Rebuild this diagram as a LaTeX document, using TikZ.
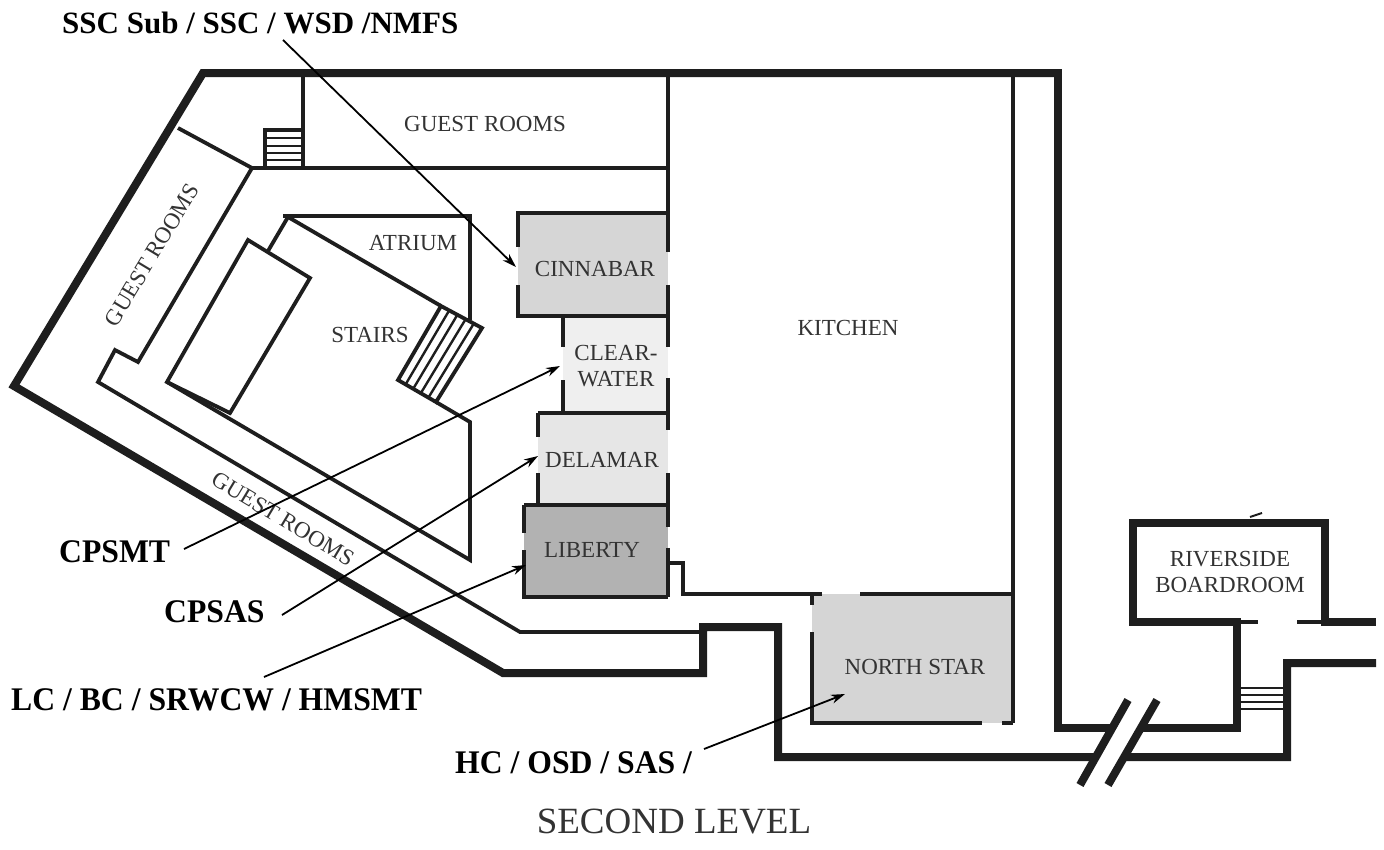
\documentclass[tikz,border=0pt]{standalone}
\usepackage{fontspec}
\setmainfont{Liberation Serif}
\usetikzlibrary{arrows.meta,calc}
\definecolor{wallc}{HTML}{1E1E1E}
\definecolor{lblc}{HTML}{333333}
\definecolor{cinn}{HTML}{D6D6D6}
\definecolor{clear}{HTML}{EFEFEF}
\definecolor{dela}{HTML}{E6E6E6}
\definecolor{libe}{HTML}{B2B2B2}
\definecolor{nstar}{HTML}{D5D5D5}
\newcommand{\cond}[1]{\scalebox{0.96}[1]{#1}}
\begin{document}
\begin{tikzpicture}[x=1pt,y=-1pt,
  outer/.style={line width=8pt, color=wallc, line join=miter},
  wall/.style={line width=4.5pt, color=wallc},
  thinwall/.style={line width=3.8pt, color=wallc},
  hatch/.style={line width=2.4pt, color=wallc},
  roomlbl/.style={font=\fontsize{23}{26}\selectfont, text=lblc, align=center, inner sep=0pt},
  callout/.style={font=\bfseries\fontsize{31}{33}\selectfont, inner sep=0pt, anchor=base west},
  calloutb/.style={font=\bfseries\fontsize{33}{35}\selectfont, inner sep=0pt, anchor=base west},
  arr/.style={line width=1.8pt, -{Stealth[length=14pt,width=9pt]}}]
\useasboundingbox (0,0) rectangle (1384,849);

% ---------- room fills ----------
\fill[cinn] (518,213) rectangle (668,316);
\fill[clear] (563,316) rectangle (668,413);
\fill[dela] (538,413) rectangle (668,505);
\fill[libe] (524,505) rectangle (668,597);
\fill[nstar] (812,594) rectangle (1013,723);

% ---------- outer walls ----------
\draw[outer] (1058,73) -- (203,73) -- (14,386) -- (503,673) -- (703,673) -- (703,627) -- (778,627) -- (778,757) -- (1287,757) -- (1287,663) -- (1376,663);
\draw[outer] (1058,69) -- (1058,728) -- (1237,728) -- (1237,622) -- (1133,622) -- (1133,523) -- (1325,523) -- (1325,622) -- (1376,622);
\draw[thinwall] (1237,622) -- (1258,622);
\draw[thinwall] (1297,622) -- (1325,622);
\draw[line width=2pt, color=wallc] (1250,517) -- (1262,513);

% small stairs by riverside
\foreach \yy in {688,695,702,709} \draw[line width=2pt, color=wallc] (1239,\yy) -- (1285,\yy);

% break marks
\fill[white] (1121.2,712) -- (1150.2,712) -- (1116.3,772) -- (1087.3,772) -- cycle;
\draw[outer, line cap=butt] (1128,700) -- (1080,785);
\draw[outer, line cap=butt] (1157,700) -- (1108,785);

% ---------- left wing ----------
\draw[thinwall] (178,128) -- (252,168) -- (668,168);
\draw[thinwall] (303,75) -- (303,168);
\draw[thinwall] (252,168) -- (138,362) -- (115,350) -- (98,382) -- (520,632) -- (701,632);
% small stairs top left
\draw[thinwall] (303,130) -- (265,130) -- (265,168);
\foreach \yy in {138,146,153,160} \draw[hatch] (265,\yy) -- (303,\yy);

% ---------- atrium / stairs ----------
\coordinate (P) at (288,217);
\coordinate (A) at (398,380);
\coordinate (B) at (441,306);
\coordinate (C) at (482,328);
\coordinate (D) at (436,402);
\draw[thinwall] (283,216) -- (472,216);
\draw[thinwall] (470,216) -- (470,320);
\draw[thinwall] (P) -- (B);
\draw[thinwall] (A) -- (B) -- (C) -- (D) -- cycle;
\draw[thinwall] (D) -- (470,422) -- (470,560) -- (167,382);
\draw[thinwall] (248,240) -- (310,278) -- (230,413) -- (167,382) -- cycle;
\draw[thinwall] (P) -- (268,251);
\foreach \t in {0.2,0.4,0.6,0.8} \draw[hatch] ($(A)!\t!(D)$) -- ($(B)!\t!(C)$);

% ---------- meeting rooms ----------
\draw[wall] (668,213) -- (518,213) -- (518,247);
\draw[wall] (518,285) -- (518,316) -- (668,316);
\draw[wall] (563,316) -- (563,347);
\draw[wall] (563,380) -- (563,413);
\draw[wall] (538,413) -- (668,413);
\draw[wall] (538,413) -- (538,437);
\draw[wall] (538,473) -- (538,505);
\draw[wall] (524,505) -- (668,505);
\draw[wall] (524,505) -- (524,533);
\draw[wall] (524,550) -- (524,597) -- (668,597);

% ---------- kitchen ----------
\draw[thinwall] (668,75) -- (668,252);
\draw[thinwall] (668,285) -- (668,347);
\draw[thinwall] (668,378) -- (668,430);
\draw[thinwall] (668,473) -- (668,527);
\draw[thinwall] (668,548) -- (668,597);
\draw[thinwall] (668,563) -- (683,563) -- (683,594) -- (822,594);
\draw[thinwall] (860,594) -- (1013,594);
\draw[thinwall] (1013,75) -- (1013,723);
% north star walls
\draw[thinwall] (812,594) -- (812,605);
\draw[thinwall] (812,632) -- (812,723) -- (982,723);
\draw[thinwall] (1002,723) -- (1013,723);

% ---------- room labels ----------
\node[roomlbl] (gr1) at (485,124) {GUEST ROOMS};
\node[roomlbl, rotate=59] (gr2) at (152,255) {GUEST ROOMS};
\node[roomlbl, rotate=-31] (gr3) at (283,519) {GUEST ROOMS};
\node[roomlbl] (atr) at (413,243) {ATRIUM};
\node[roomlbl] (sta) at (370,335) {STAIRS};
\node[roomlbl] (cin) at (595,269) {CINNABAR};
\node[roomlbl] (clw) at (616,366) {CLEAR-\\WATER};
\node[roomlbl] (del) at (602,460) {DELAMAR};
\node[roomlbl] (lib) at (592,550) {LIBERTY};
\node[roomlbl] (kit) at (848,328) {KITCHEN};
\node[roomlbl] (nst) at (915,667) {NORTH STAR};
\node[roomlbl] (riv) at (1230,572) {RIVERSIDE\\BOARDROOM};
\node[font=\fontsize{37}{40}\selectfont, text=lblc, inner sep=0pt] (lvl) at (674,822) {SECOND LEVEL};

% ---------- callouts ----------
\node[callout] (ssc) at (62,33) {SSC Sub / SSC / WSD /NMFS};
\node[calloutb] (cpsmt) at (59,562) {\cond{CPSMT}};
\node[calloutb] (cpsas) at (164,622) {\cond{CPSAS}};
\node[calloutb] (lcbc) at (11,710) {\cond{LC / BC / SRWCW / HMSMT}};
\node[calloutb] (hcosd) at (455,773) {\cond{HC / OSD / SAS /}};

\coordinate (sscS) at (283,40);   \coordinate (sscE) at (516,267);
\coordinate (cpsmtS) at (184,549); \coordinate (cpsmtE) at (560,366);
\coordinate (cpsasS) at (282,615); \coordinate (cpsasE) at (538,456);
\coordinate (lcS) at (264,677);    \coordinate (lcE) at (526,565);
\coordinate (hcS) at (704,749);    \coordinate (hcE) at (845,694);
\draw[arr] (sscS) -- (sscE);
\draw[arr] (cpsmtS) -- (cpsmtE);
\draw[arr] (cpsasS) -- (cpsasE);
\draw[arr] (lcS) -- (lcE);
\draw[arr] (hcS) -- (hcE);
\end{tikzpicture}
\end{document}
